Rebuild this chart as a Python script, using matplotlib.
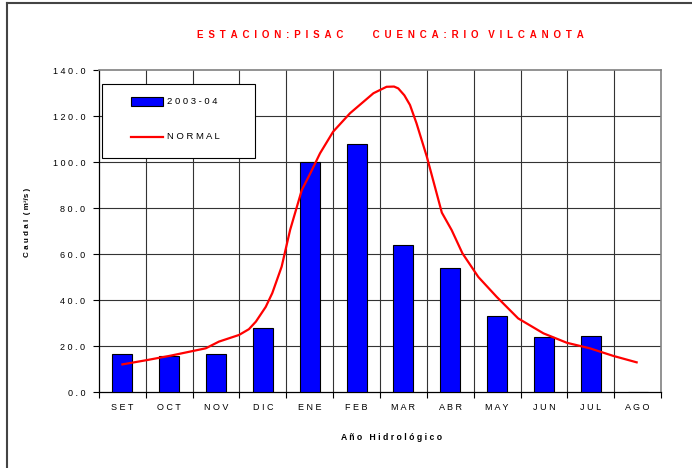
import matplotlib
matplotlib.use("Agg")
import matplotlib.pyplot as plt
from matplotlib.lines import Line2D
from matplotlib.patches import Rectangle

plt.rcParams['font.family'] = ['Liberation Sans', 'DejaVu Sans']

months = ["SET", "OCT", "NOV", "DIC", "ENE", "FEB", "MAR", "ABR", "MAY", "JUN", "JUL", "AGO"]
caudal_2003 = [16.5, 15.6, 16.5, 28.0, 100.0, 108.0, 63.8, 53.8, 33.0, 24.0, 24.3, 0.0]

# Normal curve: position in month units (0 = SET) and value
normal_pos = [0.0, 0.53, 1.03, 1.78, 2.06, 2.49, 2.70, 2.85, 3.06, 3.20, 3.40, 3.58,
              3.83, 4.01, 4.22, 4.50, 4.86, 5.36, 5.64, 5.80, 5.89, 6.02, 6.14, 6.28,
              6.50, 6.82, 7.03, 7.26, 7.60, 7.99, 8.45, 8.99, 9.49, 9.98, 10.48, 10.98]
normal_vals = [12.0, 13.9, 15.8, 19.0, 21.9, 24.8, 27.3, 30.6, 37.0, 43.0, 54.5, 70.4,
               87.8, 95.0, 103.8, 113.2, 121.2, 129.9, 132.7, 132.8, 132.0, 129.0, 124.8, 116.8,
               102.3, 78.0, 70.4, 60.3, 50.0, 41.4, 32.0, 25.5, 21.4, 19.0, 15.7, 12.9]

yticks = [0, 20, 40, 60, 80, 100, 120, 140]
series_labels = ["2003-04", "NORMAL"]


def spaced(s, sep=" "):
    return sep.join(list(s))


W, H = 692, 468


def fx(px):
    return px / W


def fy(py):
    return 1 - py / H


fig = plt.figure(figsize=(6.92, 4.68), dpi=100)
ax = fig.add_axes([fx(99), fy(392), (661 - 99) / W, (392 - 70) / H])

x = list(range(len(months)))
ax.bar(x, caudal_2003, width=0.43, color="#0000FF", edgecolor="black", linewidth=0.8, zorder=3)
ax.plot(normal_pos, normal_vals, color="#FF0000", linewidth=1.6, zorder=4)

ax.set_xlim(-0.5, len(months) - 0.5)
ax.set_ylim(0, 140)

# gridlines
for b in [i + 0.5 for i in range(len(months) - 1)]:
    ax.axvline(b, color="#333333", linewidth=0.8, zorder=1)
for t in yticks[1:-1]:
    ax.axhline(t, color="#333333", linewidth=0.8, zorder=1)

ax.set_yticks(yticks)
ax.set_yticklabels([spaced(f"{t:.1f}") for t in yticks], fontsize=6.5)
ax.set_xticks(x)
ax.set_xticklabels([spaced(m) for m in months], fontsize=6.5)
ax.set_xticks([i - 0.5 for i in range(len(months) + 1)], minor=True)
ax.tick_params(axis="x", which="major", length=0, pad=8)
ax.tick_params(axis="x", which="minor", length=4, direction="out", width=0.8)
ax.tick_params(axis="y", length=4, direction="out", width=0.8, pad=6)

for side in ["top", "right"]:
    ax.spines[side].set_color("#808080")
    ax.spines[side].set_linewidth(1.2)
for side in ["left", "bottom"]:
    ax.spines[side].set_color("black")
    ax.spines[side].set_linewidth(0.9)

fig.text(fx(28), fy(222), spaced("Caudal") + "  ( m³/s )", rotation=90,
         ha="center", va="center", fontsize=5.8, fontweight="bold")
fig.text(fx(392), fy(438), spaced("Año") + "   " + spaced("Hidrológico"),
         ha="center", va="center", fontsize=6.2, fontweight="bold")

# legend box (drawn manually)
fig.add_artist(Rectangle((fx(102), fy(158)), (255 - 102) / W, (158 - 84) / H,
                         transform=fig.transFigure, facecolor="white", edgecolor="black",
                         linewidth=0.8, zorder=6))
fig.add_artist(Rectangle((fx(131), fy(106)), (163 - 131) / W, (106 - 97) / H,
                         transform=fig.transFigure, facecolor="#0000FF", edgecolor="black",
                         linewidth=0.8, zorder=7))
fig.add_artist(Line2D([fx(131), fx(163)], [fy(137), fy(137)], color="#FF0000",
                      linewidth=1.6, zorder=7))
fig.text(fx(167), fy(101), spaced(series_labels[0]), ha="left", va="center",
         fontsize=6.8, zorder=8)
fig.text(fx(167), fy(136), spaced(series_labels[1]), ha="left", va="center",
         fontsize=6.8, zorder=8)

fig.text(fx(390), fy(35),
         spaced("ESTACION:PISAC", "\u2002") + "\u2003\u2003\u2003" + spaced("CUENCA:RIO", "\u2002")
         + "\u2003" + spaced("VILCANOTA", "\u2002"),
         ha="center", va="center", color="#FF0000", fontsize=7, fontweight="bold")

# outer frame
fig.add_artist(Line2D([fx(7), fx(7)], [0, fy(3)], color="#444444", linewidth=1.5))
fig.add_artist(Line2D([fx(7), 1], [fy(3), fy(3)], color="#444444", linewidth=1.5))

fig.savefig("out.png", dpi=100)
